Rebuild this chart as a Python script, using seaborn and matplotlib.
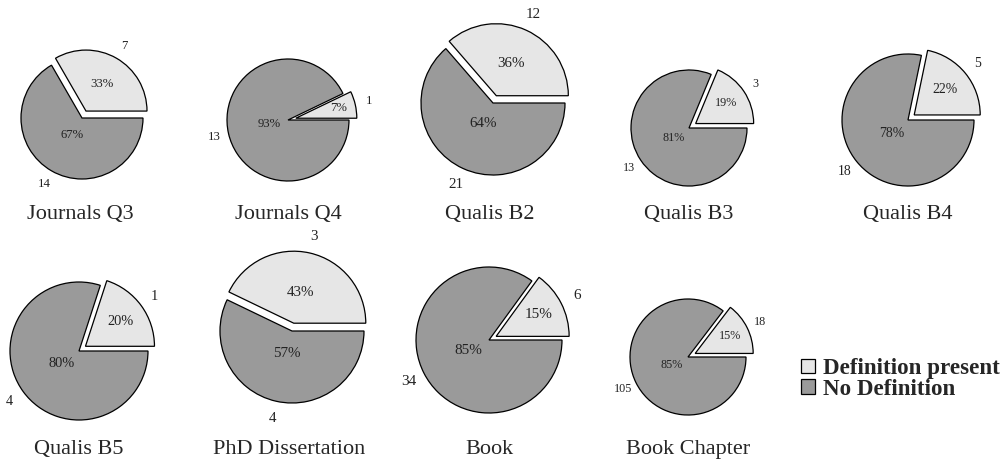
import numpy as np
import matplotlib
matplotlib.use("Agg")
import matplotlib.pyplot as plt
import seaborn as sns

# Publication types and how many of each give a definition
categories = ["Journals Q3", "Journals Q4", "Qualis B2", "Qualis B3", "Qualis B4",
              "Qualis B5", "PhD Dissertation", "Book", "Book Chapter"]
definition_present = [7, 1, 12, 3, 5, 1, 3, 6, 18]
no_definition = [14, 13, 21, 13, 18, 4, 4, 34, 105]
legend_labels = ["Definition present", "No Definition"]

sns.set_theme(style="white")
plt.rcParams["font.family"] = ["Liberation Serif", "DejaVu Serif"]
colors = sns.color_palette(["#e6e6e6", "#9a9a9a"])

W, H = 1007, 461
fig = plt.figure(figsize=(W / 100, H / 100), dpi=100)

# pie layout in pixels: centre x, centre y, radius
layout = [(82, 118, 61), (288, 120, 61), (493, 103, 72), (689, 128, 58), (908, 120, 66),
          (79, 351, 69), (292, 331, 72), (489, 340, 73), (688, 357, 58)]
title_x = [80, 288, 490, 689, 908, 79, 289, 489, 688]
title_y = [214, 214, 214, 214, 214, 449, 449, 449, 449]

BOX = 110          # half-size of each pie's axes box, px
EXPLODE = 8        # offset of the highlighted slice, px

wedges_for_legend = None
for i, name in enumerate(categories):
    cx, cy, r = layout[i]
    ax = fig.add_axes([(cx - BOX) / W, 1 - (cy + BOX) / H, 2 * BOX / W, 2 * BOX / H])
    vals = [definition_present[i], no_definition[i]]
    fs = 9.0 * r / 60.0
    wedges, texts, autotexts = ax.pie(
        vals, colors=colors, startangle=0, counterclock=True,
        radius=r, explode=(EXPLODE, 0),
        labels=[str(v) for v in vals], labeldistance=1.24,
        autopct="%1.0f%%", pctdistance=0.32,
        wedgeprops=dict(edgecolor="black", linewidth=0.9),
        textprops=dict(fontsize=fs, color="#222222"))
    for t in texts:
        t.set_ha("center")
        t.set_va("center")
    # the small highlighted slice carries its percentage further out
    frac = vals[0] / sum(vals)
    pd_light = 0.78 - 0.8 * frac
    c = np.array(wedges[0].center)
    p = np.array(autotexts[0].get_position())
    autotexts[0].set_position(tuple(c + (p - c) * pd_light / 0.32))
    for t in autotexts:
        t.set_ha("center")
        t.set_va("center")
    ax.set_xlim(-BOX, BOX)
    ax.set_ylim(-BOX, BOX)
    ax.set_aspect("equal")
    ax.axis("off")
    fig.text(title_x[i] / W, 1 - title_y[i] / H, name, ha="center", va="center",
             fontsize=16)
    wedges_for_legend = wedges

fig.legend(wedges_for_legend, legend_labels, loc="upper left",
           bbox_to_anchor=(801 / W, 1 - 358 / H), frameon=False,
           prop=dict(family="Liberation Serif", weight="bold", size=16.6),
           handlelength=0.6, handleheight=0.6, handletextpad=0.35,
           labelspacing=-0.02, borderpad=0, borderaxespad=0)

fig.savefig("out.png", dpi=100)
